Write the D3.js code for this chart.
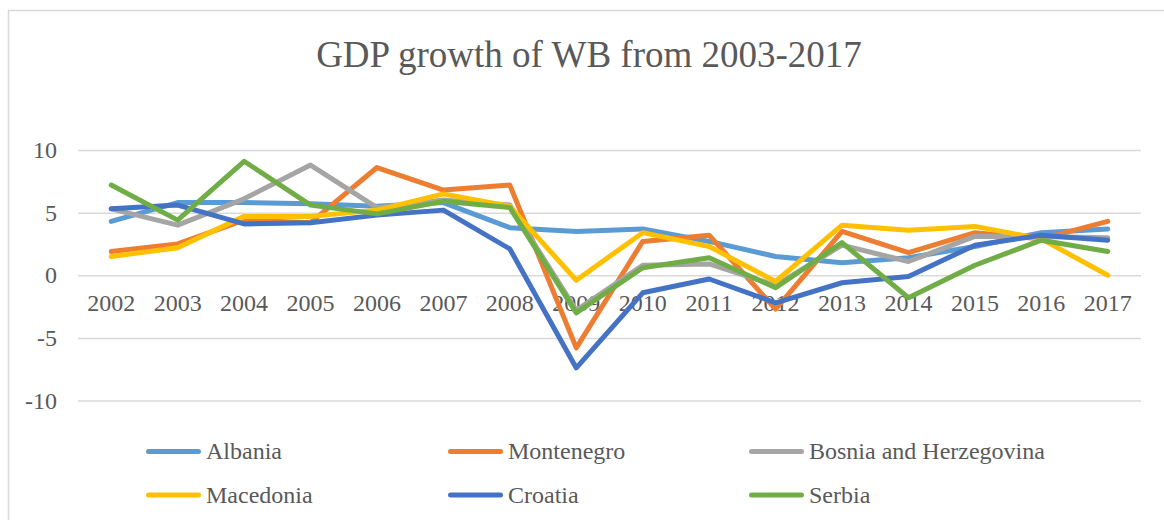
<!DOCTYPE html>
<html>
<head>
<meta charset="utf-8">
<script src="https://cdn.jsdelivr.net/npm/d3@7"></script>
<style>
  html, body { margin: 0; padding: 0; background: #fff; }
  svg { display: block; }
  text { font-family: "Liberation Serif", "Times New Roman", serif; fill: #595959; }
</style>
</head>
<body>
<svg id="chart" width="1164" height="520"></svg>
<script>
// GDP growth (%) for the Western Balkan economies, 2002-2017
const years = ["2002","2003","2004","2005","2006","2007","2008","2009",
               "2010","2011","2012","2013","2014","2015","2016","2017"];
const albania    = [4.3, 5.8, 5.8, 5.7, 5.5, 5.8, 3.8, 3.5, 3.7, 2.7, 1.5, 1.0, 1.4, 2.3, 3.4, 3.7];
const montenegro = [1.9, 2.5, 4.4, 4.2, 8.6, 6.8, 7.2, -5.8, 2.7, 3.2, -2.7, 3.5, 1.8, 3.4, 2.9, 4.3];
const bosnia     = [5.3, 4.0, 6.1, 8.8, 5.4, 6.0, 5.6, -2.8, 0.8, 0.9, -0.8, 2.4, 1.1, 3.1, 3.1, 3.0];
const macedonia  = [1.5, 2.2, 4.7, 4.7, 5.2, 6.5, 5.5, -0.4, 3.4, 2.3, -0.5, 4.0, 3.6, 3.9, 2.9, 0.0];
const croatia    = [5.3, 5.6, 4.1, 4.2, 4.8, 5.2, 2.1, -7.4, -1.4, -0.3, -2.2, -0.6, -0.1, 2.4, 3.2, 2.8];
const serbia     = [7.2, 4.4, 9.1, 5.6, 4.9, 5.9, 5.4, -3.0, 0.6, 1.4, -1.0, 2.6, -1.8, 0.8, 2.8, 1.9];
const seriesNames = ["Albania", "Montenegro", "Bosnia and Herzegovina", "Macedonia", "Croatia", "Serbia"];
const yTicks = [-10, -5, 0, 5, 10];

const series = [albania, montenegro, bosnia, macedonia, croatia, serbia]
  .map((values, i) => ({ name: seriesNames[i], values }));
const colors = ["#5B9BD5", "#ED7D31", "#A5A5A5", "#FFC000", "#4472C4", "#70AD47"];

const svg = d3.select("#chart");
const FONT = "'Liberation Serif', 'Times New Roman', serif";

// outer chart frame
svg.append("rect")
  .attr("x", 8.5).attr("y", 10.5)
  .attr("width", 1200).attr("height", 600)
  .attr("fill", "#fff").attr("stroke", "#d9d9d9").attr("stroke-width", 1.5);

// title
svg.append("text")
  .attr("x", 589).attr("y", 67)
  .attr("text-anchor", "middle")
  .style("font-size", "37px")
  .text("GDP growth of WB from 2003-2017");

const x = d3.scaleBand().domain(years).range([78, 1141]);
const y = d3.scaleLinear().domain([-10, 10]).range([400.5, 150]);
const cx = d => x(d) + x.bandwidth() / 2;

// horizontal gridlines + value labels (plain hyphen for negatives)
const yAxis = d3.axisLeft(y).tickValues(yTicks).tickSize(-(1141 - 78)).tickPadding(21)
  .tickFormat(d => String(d));
const gy = svg.append("g").attr("transform", "translate(78,0)").call(yAxis);
gy.attr("font-family", FONT);
gy.select(".domain").remove();
gy.selectAll(".tick line").attr("stroke", "#d9d9d9").attr("stroke-width", 1.5);
gy.selectAll(".tick text")
  .attr("fill", "#595959")
  .style("font-size", "24px")
  .style("font-family", FONT);

// category labels sit just below the zero line
const xAxis = d3.axisBottom(x).tickSize(0).tickPadding(0);
const gx = svg.append("g").attr("transform", `translate(0,${y(0)})`).call(xAxis);
gx.attr("font-family", FONT);
gx.select(".domain").remove();
gx.selectAll(".tick text")
  .attr("fill", "#595959")
  .attr("dy", null)
  .attr("y", 36)
  .style("font-size", "24px")
  .style("font-family", FONT);

// series lines
const line = d3.line()
  .x((d, i) => cx(years[i]))
  .y(d => y(d));

svg.append("g").selectAll("path")
  .data(series)
  .join("path")
  .attr("d", d => line(d.values))
  .attr("fill", "none")
  .attr("stroke", (d, i) => colors[i])
  .attr("stroke-width", 5)
  .attr("stroke-linejoin", "round")
  .attr("stroke-linecap", "round");

// legend: three columns, two rows
const legendCols = [146, 448, 749];
const legendRows = [451.5, 495];
const lg = svg.append("g").selectAll("g")
  .data(series)
  .join("g")
  .attr("transform", (d, i) => `translate(${legendCols[i % 3]},${legendRows[Math.floor(i / 3)]})`);
lg.append("line")
  .attr("x1", 2.5).attr("x2", 52.5)
  .attr("stroke", (d, i) => colors[i])
  .attr("stroke-width", 5)
  .attr("stroke-linecap", "round");
lg.append("text")
  .attr("x", 60).attr("y", 7.5)
  .style("font-size", "24px")
  .text(d => d.name);
</script>
</body>
</html>
